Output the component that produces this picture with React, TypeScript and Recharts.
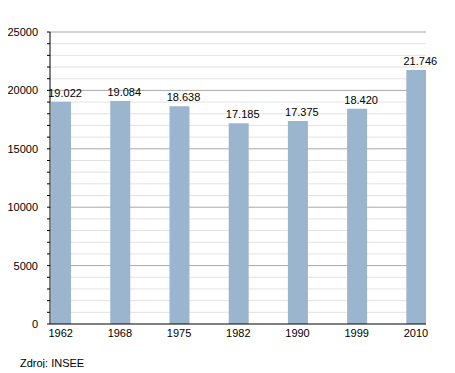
import { BarChart, Bar, XAxis, YAxis, CartesianGrid, LabelList } from "recharts";

const years = ["1962", "1968", "1975", "1982", "1990", "1999", "2010"];
const population = [19022, 19084, 18638, 17185, 17375, 18420, 21746];
const yTicks = [0, 1000, 2000, 3000, 4000, 5000, 6000, 7000, 8000, 9000, 10000, 11000, 12000, 13000, 14000, 15000, 16000, 17000, 18000, 19000, 20000, 21000, 22000, 23000, 24000, 25000];
const majorLines = [5000, 10000, 15000, 20000, 25000];
const minorLines = yTicks.filter((v) => v > 0 && !majorLines.includes(v));

const FONT = "'Liberation Sans', Arial, sans-serif";

const data = years.map((y, i) => ({ idx: i, year: y, pop: population[i] }));

const fmt = (v: number) => String(v).replace(/\B(?=(\d{3})+(?!\d))/g, ".");

function YTick(props: any) {
  const { x, y, payload } = props;
  if (payload.value % 5000 !== 0) return <g />;
  return (
    <text x={x} y={y} dy={4} textAnchor="end" fontSize={11} fontFamily={FONT} fill="#000">
      {payload.value}
    </text>
  );
}

function BarLabel(props: any) {
  const { x, y, width, value } = props;
  return (
    <text x={x + width / 2 + 4} y={y - 5} textAnchor="middle" fontSize={11} fontFamily={FONT} fill="#000">
      {fmt(Number(value))}
    </text>
  );
}

export default function App() {
  return (
    <div style={{ position: "relative", width: 447, height: 360 }}>
      <BarChart width={447} height={340} data={data} margin={{ top: 24, right: 29, bottom: 0, left: 0 }}>
        <CartesianGrid vertical={false} horizontalValues={minorLines} stroke="#e2e2e2" />
        <CartesianGrid vertical={false} horizontalValues={majorLines} stroke="#a9a9a9" />
        <XAxis
          type="number"
          dataKey="idx"
          domain={[-0.18, 6.17]}
          ticks={[0, 1, 2, 3, 4, 5, 6]}
          tickFormatter={(i: number) => years[i]}
          interval={0}
          allowDataOverflow
          tickLine={false}
          tickSize={0}
          tickMargin={5}
          height={24}
          axisLine={{ stroke: "#000" }}
          tick={{ fontSize: 11, fontFamily: FONT, fill: "#000" }}
        />
        <YAxis
          type="number"
          domain={[0, 25000]}
          ticks={yTicks}
          interval={0}
          width={42}
          tickSize={3}
          tickMargin={9}
          tickLine={{ stroke: "#000" }}
          axisLine={{ stroke: "#000" }}
          tick={<YTick />}
        />
        <Bar dataKey="pop" fill="#9bb5cf" barSize={20} isAnimationActive={false}>
          <LabelList dataKey="pop" content={<BarLabel />} />
        </Bar>
      </BarChart>
      <div style={{ position: "absolute", left: 12, top: 349, fontSize: 11, fontFamily: FONT, color: "#000" }}>
        Zdroj: INSEE
      </div>
    </div>
  );
}
